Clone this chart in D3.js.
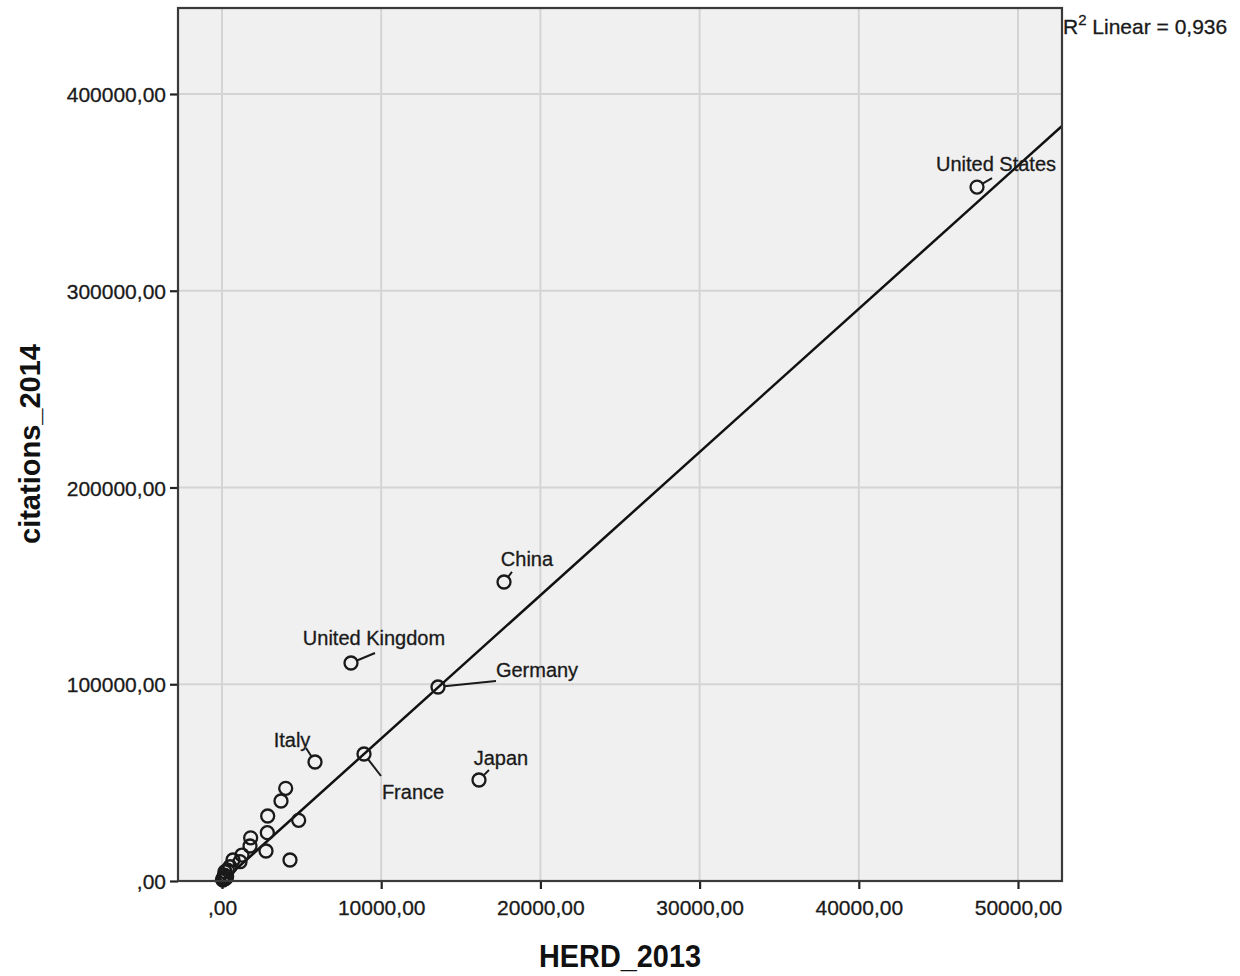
<!DOCTYPE html>
<html>
<head>
<meta charset="utf-8">
<script src="https://cdn.jsdelivr.net/npm/d3@7/dist/d3.min.js"></script>
<style>
  html, body { margin: 0; padding: 0; background: #ffffff; }
  svg { display: block; font-family: "Liberation Sans", Arial, sans-serif; }
</style>
</head>
<body>
<svg id="chart" width="1240" height="976"></svg>
<script>
// ---- Data ----
const countries = ["United States","China","United Kingdom","Germany","France","Italy","Japan",
  "","","","","","","","","","","","","","","","","","","","",""];
const herd2013 = [47425, 17714, 8103, 13568, 8920, 5842, 16143,
  4000, 3706, 2870, 4817, 2847, 1800, 1759, 2764, 4271, 1256, 1130, 690, 500, 190, 290, 60, 150, 350, 100, 30, 220];
const citations2014 = [352700, 151970, 110800, 98600, 64550, 60480, 51330,
  47100, 40660, 33040, 30850, 24550, 21960, 17790, 15250, 10670, 13200, 9800, 10670, 7250, 4700, 2200, 500, 3000, 5500, 1500, 800, 1200];
const xTicks = [0, 10000, 20000, 30000, 40000, 50000];
const yTicks = [0, 100000, 200000, 300000, 400000];
const fitCoef = [-400, 7.28];   // intercept, slope of linear fit
const rSquared = "0,936";
const xDomain = [-2764, 52764];
const yDomain = [0, 443700];

// label layout (pixel offsets relative to the point): text dx, dy; connector end ex, ey
const labelLayout = {
  "United States":  {dx: 19, dy: -17, ex: 15, ey: -9},
  "China":          {dx: 23, dy: -17, ex: 8,  ey: -10},
  "United Kingdom": {dx: 23, dy: -19, ex: 24, ey: -10},
  "Germany":        {dx: 99, dy: -11, ex: 58, ey: -6},
  "France":         {dx: 49, dy: 44,  ex: 17, ey: 22},
  "Italy":          {dx: -23, dy: -16, ex: -9, ey: -14},
  "Japan":          {dx: 22, dy: -16, ex: 10, ey: -10}
};

const fmt = d => (d === 0 ? "" : String(d)) + ",00";

const svg = d3.select("#chart");
const W = 1240, H = 976;
const margin = {left: 178, right: 178, top: 8, bottom: 95};
const x = d3.scaleLinear().domain(xDomain).range([margin.left, W - margin.right]);
const y = d3.scaleLinear().domain(yDomain).range([H - margin.bottom, margin.top]);

const pl = margin.left, pr = W - margin.right, pt = margin.top, pb = H - margin.bottom;

svg.append("defs").append("clipPath").attr("id", "plotclip")
  .append("rect").attr("x", pl).attr("y", pt).attr("width", pr - pl).attr("height", pb - pt);

// background
svg.append("rect").attr("x", pl).attr("y", pt).attr("width", pr - pl).attr("height", pb - pt)
  .attr("fill", "#f0f0f0");

// grid
const grid = svg.append("g");
grid.selectAll("line.gx").data(xTicks).join("line")
  .attr("x1", d => x(d)).attr("x2", d => x(d)).attr("y1", pt).attr("y2", pb)
  .attr("stroke", "#d4d4d4").attr("stroke-width", 2);
grid.selectAll("line.gy").data(yTicks.filter(d => d > 0)).join("line")
  .attr("x1", pl).attr("x2", pr).attr("y1", d => y(d)).attr("y2", d => y(d))
  .attr("stroke", "#d4d4d4").attr("stroke-width", 2);

// axes
const xAxis = d3.axisBottom(x).tickValues(xTicks).tickFormat(fmt).tickSize(8).tickSizeOuter(0);
const yAxis = d3.axisLeft(y).tickValues(yTicks).tickFormat(fmt).tickSize(8).tickSizeOuter(0);
const gx = svg.append("g").attr("transform", `translate(0,${pb})`).call(xAxis);
const gy = svg.append("g").attr("transform", `translate(${pl},0)`).call(yAxis);
[gx, gy].forEach(g => {
  g.select(".domain").remove();
  g.selectAll(".tick line").attr("stroke", "#222").attr("stroke-width", 2.2);
  g.selectAll(".tick text").attr("fill", "#1a1a1a").style("font-size", "21px")
    .attr("stroke", "#1a1a1a").attr("stroke-width", 0.3)
    .style("font-family", "'Liberation Sans', Arial, sans-serif");
});
gx.selectAll(".tick text").attr("dy", "0.95em").attr("y", 14);
gy.selectAll(".tick text").attr("x", -12).attr("dy", "0.36em");

// fit line
const fitY = v => fitCoef[0] + fitCoef[1] * v;
svg.append("line").attr("clip-path", "url(#plotclip)")
  .attr("x1", x(0)).attr("y1", y(fitY(0)))
  .attr("x2", x(xDomain[1])).attr("y2", y(fitY(xDomain[1])))
  .attr("stroke", "#111").attr("stroke-width", 2.5);

// points
const pts = herd2013.map((h, i) => ({name: countries[i], h, c: citations2014[i]}));
const r = 6.5;
svg.append("g").selectAll("circle").data(pts).join("circle")
  .attr("cx", d => x(d.h)).attr("cy", d => y(d.c)).attr("r", r)
  .attr("fill", "none").attr("stroke", "#1a1a1a").attr("stroke-width", 2.3);

// labels + connectors
const labeled = pts.filter(d => d.name && labelLayout[d.name]);
const lg = svg.append("g");
labeled.forEach(d => {
  const L = labelLayout[d.name];
  const px = x(d.h), py = y(d.c);
  const len = Math.hypot(L.ex, L.ey);
  lg.append("line")
    .attr("x1", px + L.ex / len * r).attr("y1", py + L.ey / len * r)
    .attr("x2", px + L.ex).attr("y2", py + L.ey)
    .attr("stroke", "#1a1a1a").attr("stroke-width", 2);
  lg.append("text").attr("x", px + L.dx).attr("y", py + L.dy + 1)
    .attr("text-anchor", "middle").attr("fill", "#1a1a1a")
    .attr("stroke", "#1a1a1a").attr("stroke-width", 0.3)
    .style("font-size", "20px").text(d.name);
});

// plot border
svg.append("rect").attr("x", pl).attr("y", pt).attr("width", pr - pl).attr("height", pb - pt)
  .attr("fill", "none").attr("stroke", "#3a3a3a").attr("stroke-width", 2.2);

// R squared
const rt = svg.append("text").attr("x", pr + 1).attr("y", 34).attr("fill", "#1a1a1a")
  .attr("stroke", "#1a1a1a").attr("stroke-width", 0.3)
  .style("font-size", "21px");
rt.append("tspan").text("R");
rt.append("tspan").attr("dy", -9).style("font-size", "15px").text("2");
rt.append("tspan").attr("dy", 9).text(" Linear = " + rSquared);

// axis titles
svg.append("text").attr("x", 620).attr("y", 967).attr("text-anchor", "middle")
  .attr("fill", "#111").style("font-size", "31px").style("font-weight", "bold")
  .attr("textLength", 162).attr("lengthAdjust", "spacingAndGlyphs").text("HERD_2013");
svg.append("text").attr("transform", "translate(40,444) rotate(-90)").attr("text-anchor", "middle")
  .attr("fill", "#111").style("font-size", "29px").style("font-weight", "bold")
  .attr("textLength", 200).attr("lengthAdjust", "spacingAndGlyphs").text("citations_2014");
</script>
</body>
</html>
